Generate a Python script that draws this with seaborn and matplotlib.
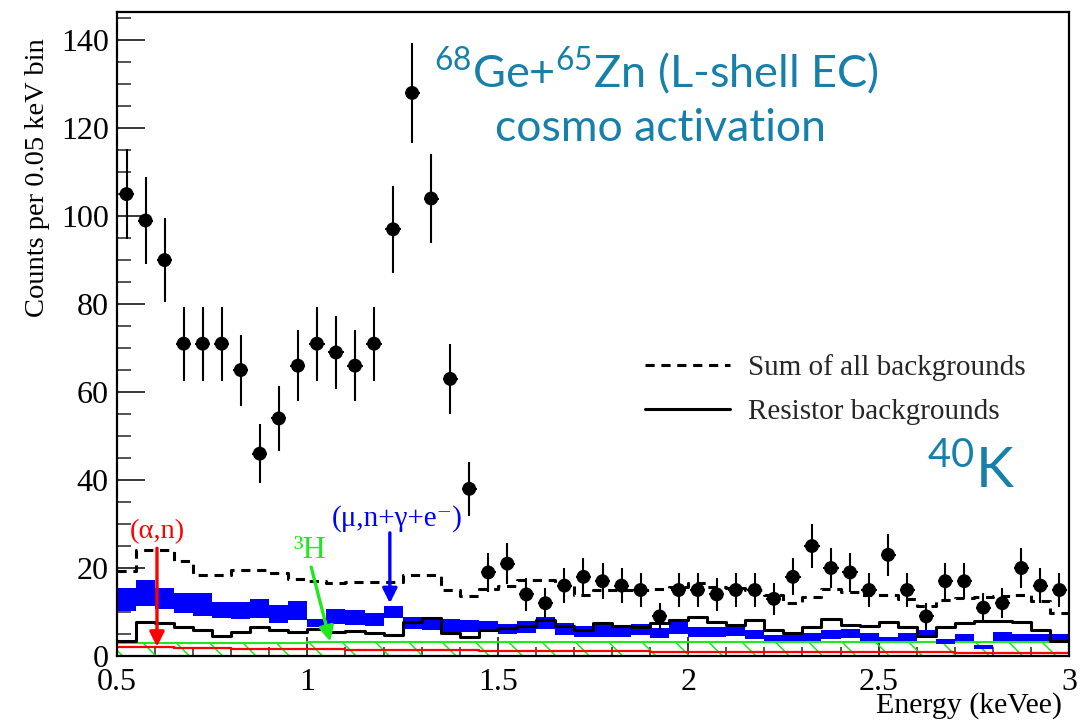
import numpy as np
import pandas as pd
import matplotlib
matplotlib.use("Agg")
import matplotlib.pyplot as plt
from matplotlib.lines import Line2D
from matplotlib.ticker import MultipleLocator
import seaborn as sns

# 0.05 keVee bins from 0.5 to 3.0 keVee
bin_edges = [round(0.5 + 0.05 * i, 3) for i in range(51)]
bin_centers = [round(0.525 + 0.05 * i, 4) for i in range(50)]

# Observed counts per bin
counts = [105, 99, 90, 71, 71, 71, 65, 46, 54, 66,
          71, 69, 66, 71, 97, 128, 104, 63, 38, 19,
          21, 14, 12, 16, 18, 17, 16, 15, 9, 15,
          15, 14, 15, 15, 13, 18, 25, 20, 19, 15,
          23, 15, 9, 17, 17, 11, 12, 20, 16, 15]

# Sum of all background components
sum_bkg = [19.4, 24.1, 24.0, 21.5, 18.5, 18.4, 19.5, 19.5, 18.9, 17.5,
           17.0, 16.6, 16.8, 16.8, 16.8, 18.4, 18.4, 15.0, 13.6, 15.3,
           16.0, 17.3, 17.3, 16.0, 13.9, 15.0, 15.0, 15.0, 15.2, 15.7,
           16.6, 15.7, 15.5, 15.0, 13.9, 12.0, 13.4, 15.2, 14.6, 13.9,
           13.9, 12.9, 11.4, 12.7, 13.1, 13.3, 13.6, 13.9, 12.4, 9.7]

# Resistor backgrounds
resistor_bkg = [3.4, 7.8, 7.4, 6.5, 5.8, 4.6, 5.5, 6.7, 5.9, 5.5,
                6.1, 5.4, 5.7, 5.3, 4.8, 7.8, 8.6, 5.3, 4.4, 5.8,
                6.3, 6.8, 8.2, 6.9, 6.0, 7.5, 6.8, 6.7, 7.6, 8.2,
                8.8, 7.8, 7.0, 8.1, 6.0, 5.3, 6.7, 8.3, 7.0, 6.8,
                7.8, 6.7, 4.5, 6.7, 7.6, 8.0, 8.0, 7.8, 5.9, 3.4]

# (mu,n + gamma + e-) background band: lower / upper edge per bin
muon_low = [10.3, 11.4, 10.6, 9.8, 9.1, 8.7, 8.3, 8.7, 7.4, 8.2,
            6.5, 7.3, 7.0, 6.8, 8.6, 6.1, 5.9, 5.5, 5.4, 5.5,
            5.0, 5.3, 6.1, 4.8, 4.3, 4.4, 4.4, 4.7, 4.0, 5.1,
            4.4, 4.4, 4.5, 3.8, 3.3, 3.3, 3.3, 3.8, 4.0, 3.5,
            3.3, 3.5, 4.5, 2.7, 3.3, 1.6, 3.5, 3.3, 3.3, 3.3]
muon_high = [15.4, 17.3, 15.4, 14.4, 14.4, 12.3, 12.2, 12.9, 11.6, 12.6,
             8.3, 10.6, 10.5, 9.8, 11.4, 8.9, 8.7, 8.3, 8.2, 7.9,
             7.2, 8.0, 8.8, 7.4, 6.8, 7.2, 6.9, 7.3, 6.3, 7.8,
             6.6, 6.5, 6.7, 5.9, 4.8, 4.8, 5.2, 6.0, 6.1, 5.2,
             4.4, 5.3, 5.9, 3.8, 5.0, 2.5, 5.4, 4.9, 4.9, 4.9]

# Tritium (3H) component
tritium = [2.9, 2.9, 2.9, 2.9, 2.9, 2.9, 2.9, 2.9, 2.9, 2.9,
           3.2, 3.2, 3.2, 3.2, 3.2, 3.2, 3.2, 3.2, 3.2, 3.2,
           3.2, 3.2, 3.2, 3.2, 3.2, 3.2, 3.2, 3.2, 3.2, 3.2,
           3.2, 3.2, 3.2, 3.2, 3.2, 3.2, 3.2, 3.2, 3.2, 3.2,
           3.2, 3.2, 3.2, 3.2, 3.2, 3.2, 3.2, 3.2, 3.2, 3.2]

# (alpha,n) component
alpha_n = [2.1, 2.1, 2.0, 1.9, 1.9, 1.75, 1.7, 1.65, 1.6, 1.55,
           1.5, 1.5, 1.45, 1.4, 1.4, 1.35, 1.35, 1.3, 1.3, 1.25,
           1.2, 1.2, 1.15, 1.15, 1.1, 1.1, 1.05, 1.05, 1.0, 1.0,
           1.0, 0.95, 0.95, 0.95, 0.9, 0.9, 0.9, 0.85, 0.85, 0.85,
           0.8, 0.8, 0.8, 0.8, 0.75, 0.75, 0.75, 0.7, 0.7, 0.7]

x_ticks = [0.5, 1, 1.5, 2, 2.5, 3]
x_tick_labels = ["0.5", "1", "1.5", "2", "2.5", "3"]
y_ticks = [0, 20, 40, 60, 80, 100, 120, 140]

spec = pd.DataFrame({
    "energy": bin_centers, "counts": counts, "sum_bkg": sum_bkg,
    "resistor": resistor_bkg, "alpha_n": alpha_n,
})

TEAL = "#1780aa"
GREEN = "#1fe81f"

sns.set_theme(style="ticks")
plt.rcParams["font.family"] = ["Liberation Serif", "DejaVu Serif"]
plt.rcParams["mathtext.fontset"] = "custom"
plt.rcParams["mathtext.rm"] = "Lato"
plt.rcParams["mathtext.it"] = "Lato:italic"
plt.rcParams["mathtext.bf"] = "Lato:bold"
plt.rcParams["hatch.linewidth"] = 1.1

W, H = 1091, 721
fig = plt.figure(figsize=(W / 100, H / 100), dpi=100)
ax = fig.add_axes([117 / W, 1 - 656 / H, (1069 - 117) / W, (656 - 12) / H])

# tritium: green hatched area
ax.stairs(tritium, bin_edges, baseline=0, fill=True, facecolor="none",
          edgecolor=GREEN, hatch="\\", linewidth=1.5, zorder=1)

# (alpha,n): red histogram line
sns.histplot(data=spec, x="energy", weights="alpha_n", bins=bin_edges,
             element="step", fill=False, color="red", linewidth=1.6, ax=ax,
             zorder=2)

# muon-induced background as a blue band
ax.bar(bin_centers, np.array(muon_high) - np.array(muon_low), bottom=muon_low,
       width=0.05, color="blue", linewidth=0, zorder=2)

# resistor backgrounds (solid) and sum of all backgrounds (dashed)
sns.histplot(data=spec, x="energy", weights="resistor", bins=bin_edges,
             element="step", fill=False, color="black", linewidth=2.2, ax=ax,
             zorder=3)
sns.histplot(data=spec, x="energy", weights="sum_bkg", bins=bin_edges,
             element="step", fill=False, color="black", linewidth=2.2,
             linestyle=(0, (3, 2.2)), ax=ax, zorder=3)

# data with Poisson errors
ax.errorbar(spec["energy"], spec["counts"], yerr=np.sqrt(spec["counts"]),
            xerr=0.02, fmt="none", ecolor="black", elinewidth=1.5, capsize=0,
            zorder=4)
sns.scatterplot(data=spec, x="energy", y="counts", color="black", s=100,
                edgecolor="none", ax=ax, zorder=5, legend=False)

ax.set_xlim(0.5, 3.0)
ax.set_ylim(0, 146.4)
ax.set_xlabel("")
ax.set_ylabel("")
ax.set_xticks(x_ticks)
ax.set_xticklabels(x_tick_labels)
ax.set_yticks(y_ticks)
ax.xaxis.set_minor_locator(MultipleLocator(0.1))
ax.yaxis.set_minor_locator(MultipleLocator(5))
ax.tick_params(axis="x", which="major", direction="in", length=13.5, width=1.1,
               labelsize=23, pad=8.5, colors="black")
ax.tick_params(axis="x", which="minor", direction="in", length=6.8, width=1.1)
ax.tick_params(axis="y", which="major", direction="in", length=20, width=1.1,
               labelsize=23, pad=6, colors="black")
ax.tick_params(axis="y", which="minor", direction="in", length=10, width=1.1)
for side in ["left", "right", "top", "bottom"]:
    ax.spines[side].set_visible(True)
    ax.spines[side].set_color("black")
    ax.spines[side].set_linewidth(1.6)

# axis titles
fig.text(38 / W, 1 - 178 / H, "Counts per 0.05 keV bin", rotation=90,
         ha="center", va="center", fontsize=20.5, color="black")
fig.text(1062 / W, 1 - 706 / H, "Energy (keVee)", ha="right", va="center",
         fontsize=21.5, color="black")

# legend
handles = [Line2D([], [], color="black", lw=2.2, ls=(0, (3, 2.2))),
           Line2D([], [], color="black", lw=2.2)]
ax.legend(handles, ["Sum of all backgrounds", "Resistor backgrounds"],
          loc="upper left", bbox_to_anchor=(645 / W, 1 - 354 / H),
          bbox_transform=fig.transFigure, frameon=False, fontsize=21,
          handlelength=2.9, handletextpad=0.62, labelspacing=0.6,
          borderpad=0, borderaxespad=0)

# component labels and arrows
ax.text(0.605, 25.5, "(α,n)", color="red", fontsize=20.5, ha="center",
        va="bottom")
ax.annotate("", xy=(0.605, 2.1), xytext=(0.605, 24.5),
            arrowprops=dict(arrowstyle="-|>", color="red", lw=2.4,
                            mutation_scale=22, shrinkA=0, shrinkB=0), zorder=6)
ax.text(1.005, 20.8, "³H", color=GREEN, fontsize=23, ha="center", va="bottom")
ax.annotate("", xy=(1.06, 3.3), xytext=(1.01, 20.2),
            arrowprops=dict(arrowstyle="-|>", color=GREEN, lw=2.4,
                            mutation_scale=22, shrinkA=0, shrinkB=0), zorder=6)
ax.text(1.235, 28.3, "(μ,n+γ+e⁻)", color="blue", fontsize=21, ha="center",
        va="bottom")
ax.annotate("", xy=(1.2165, 12.0), xytext=(1.2165, 28.0),
            arrowprops=dict(arrowstyle="-|>", color="blue", lw=2.4,
                            mutation_scale=22, shrinkA=0, shrinkB=0), zorder=6)

# cosmogenic activation labels
fig.text(656 / W, 1 - 87 / H, r"$^{68}$Ge+$^{65}$Zn (L-shell EC)", color=TEAL,
         fontsize=32.5, family="Lato", ha="center", va="baseline")
fig.text(660 / W, 1 - 141 / H, "cosmo activation", color=TEAL, fontsize=32,
         family="Lato", ha="center", va="baseline")
fig.text(1015 / W, 1 - 488 / H, r"$^{40}$K", color=TEAL, fontsize=41,
         family="Lato", ha="right", va="baseline")

fig.savefig("out.png", dpi=100)
